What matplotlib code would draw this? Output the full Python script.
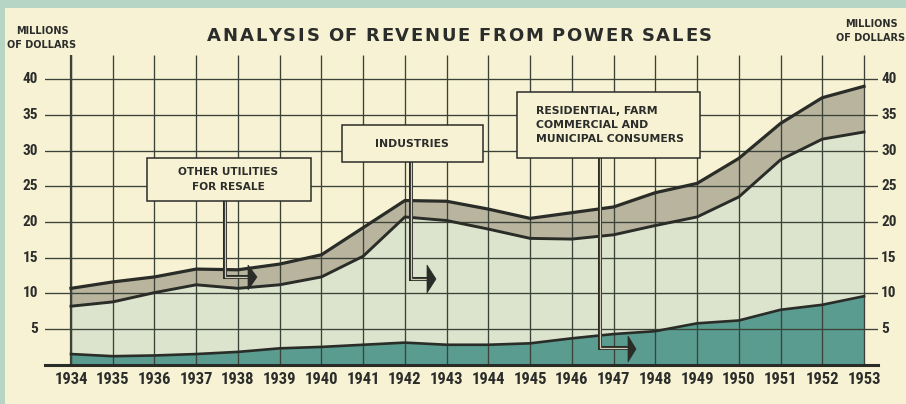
import numpy as np
import matplotlib
matplotlib.use("Agg")
import matplotlib.pyplot as plt
from matplotlib.patches import Rectangle, Polygon
from matplotlib.font_manager import FontProperties
from matplotlib import font_manager as fm

# ---------------- data ----------------
years = list(range(1934, 1954))
residential = [1.5, 1.2, 1.3, 1.5, 1.8, 2.3, 2.5, 2.8, 3.1, 2.8,
               2.8, 3.0, 3.7, 4.3, 4.7, 5.8, 6.2, 7.7, 8.4, 9.6]
industries = [6.7, 7.6, 8.8, 9.7, 8.9, 8.9, 9.8, 12.4, 17.6, 17.4,
              16.2, 14.7, 13.9, 13.9, 14.8, 14.9, 17.3, 21.0, 23.2, 23.0]
utilities = [2.5, 2.8, 2.2, 2.2, 2.6, 2.9, 3.1, 4.0, 2.3, 2.7,
             2.8, 2.8, 3.7, 3.9, 4.6, 4.7, 5.4, 5.1, 5.8, 6.4]
y_ticks = [5, 10, 15, 20, 25, 30, 35, 40]
year_labels = [str(y) for y in years]

title = "ANALYSIS OF REVENUE FROM POWER SALES"
unit_label = "MILLIONS\nOF DOLLARS"
label_utilities = "OTHER UTILITIES\nFOR RESALE"
label_industries = "INDUSTRIES"
label_residential = "RESIDENTIAL, FARM\nCOMMERCIAL AND\nMUNICIPAL CONSUMERS"

# ---------------- style ----------------
BORDER = "#b7d5c4"
CREAM = "#f8f2d4"
TEAL = "#5a9c90"
LIGHT = "#dde4cd"
GRAY = "#b8b49e"
LINE = "#2a2c28"
GRID = "#3b4339"
TXT = "#2b2d2a"


def _is_bold(f):
    w = f.weight
    if isinstance(w, str):
        return w in ("bold", "heavy", "black", "demibold", "semibold", "extra bold")
    return w >= 600


def narrow_font(size):
    """Pick an installed narrow bold sans face; fall back to Roboto Bold."""
    prefs = ["Liberation Sans Narrow", "Roboto Condensed", "Noto Sans Condensed",
             "Open Sans Condensed", "DejaVu Sans", "Noto Sans", "Open Sans",
             "Roboto", "Inter", "Lato"]
    cands = []
    for f in fm.fontManager.ttflist:
        narrow = ("Narrow" in f.name or "Condensed" in f.name
                  or f.stretch in ("condensed", "semi-condensed", "extra-condensed"))
        if narrow and f.style == "normal" and _is_bold(f) and "Mono" not in f.name \
                and "Serif" not in f.name:
            cands.append(f)
    if cands:
        def rank(f):
            for i, p in enumerate(prefs):
                if f.name.startswith(p):
                    return i
            return len(prefs)
        cands.sort(key=rank)
        return FontProperties(fname=cands[0].fname, size=size)
    return FontProperties(family=["Roboto", "DejaVu Sans"], weight="bold", size=size)


W, H = 906, 404
fig = plt.figure(figsize=(W / 100, H / 100), dpi=100, facecolor=BORDER)
fig.add_artist(Rectangle((5 / W, 0), 1, 1 - 8 / H, transform=fig.transFigure,
                         facecolor=CREAM, edgecolor="none", zorder=-10))
renderer = fig.canvas.get_renderer()


def fit_font(sample, target_w, max_size):
    fp = narrow_font(max_size)
    t = fig.text(0, 0, sample, fontproperties=fp)
    w = t.get_window_extent(renderer).width
    t.remove()
    size = max_size if w <= target_w else max_size * target_w / w
    return narrow_font(size)


year_fp = fit_font("1934", 34, 12.5)
ytick_fp = fit_font("40", 16.5, 11.0)

base_px, top_px = 364.75, 55.0
left_px, right_px = 45.0, 878.0
x_first_px, x_last_px = 71.0, 864.0
px_per_year = (x_last_px - x_first_px) / 19
ppu = 7.14

ax = fig.add_axes([left_px / W, 1 - base_px / H, (right_px - left_px) / W,
                   (base_px - top_px) / H])
ax.set_facecolor("none")
ax.set_xlim(1934 - (x_first_px - left_px) / px_per_year,
            1953 + (right_px - x_last_px) / px_per_year)
ytop = (base_px - top_px) / ppu
ax.set_ylim(0, ytop)
for s in ax.spines.values():
    s.set_visible(False)

ax.stackplot(years, residential, industries, utilities,
             colors=[TEAL, LIGHT, GRAY], linewidth=0, zorder=1)

for v in y_ticks:
    ax.axhline(v, color=GRID, lw=0.95, zorder=2)
ax.vlines(years, 0, ytop, color=GRID, lw=0.95, zorder=2)
ax.vlines([years[0]], 0, ytop, color=GRID, lw=1.6, zorder=2)

cum = np.cumsum(np.array([residential, industries, utilities]), axis=0)
ax.plot(years, cum[0], color=LINE, lw=1.9, zorder=3, solid_joinstyle="round")
ax.plot(years, cum[1], color=LINE, lw=2.1, zorder=3, solid_joinstyle="round")
ax.plot(years, cum[2], color=LINE, lw=2.3, zorder=3, solid_joinstyle="round")
ax.axhline(0, color=LINE, lw=2.2, zorder=4, clip_on=False)

ax.set_xticks(years)
ax.set_xticklabels(year_labels, fontproperties=year_fp, color=TXT)
ax.tick_params(axis="x", length=0, pad=5)
ax.set_yticks([])

ytr = ax.get_yaxis_transform()
span = right_px - left_px
for v in y_ticks:
    ax.text((38 - left_px) / span, v, str(v), transform=ytr, ha="right",
            va="center", fontproperties=ytick_fp, color=TXT)
    ax.text((881 - left_px) / span, v, str(v), transform=ytr, ha="left",
            va="center", fontproperties=ytick_fp, color=TXT)

# ---------------- overlay in pixel coordinates ----------------
ov = fig.add_axes([0, 0, 1, 1], zorder=5)
ov.set_xlim(0, W)
ov.set_ylim(H, 0)
ov.axis("off")
ov.patch.set_alpha(0)

lab_font = dict(fontfamily="DejaVu Sans", fontweight="bold", color=TXT)
ov.text(42, 38, unit_label, ha="center", va="center", fontsize=7,
        linespacing=1.5, **lab_font)
ov.text(871, 31, unit_label, ha="center", va="center", fontsize=7,
        linespacing=1.5, **lab_font)

# letter-spaced title
fp = FontProperties(family="DejaVu Sans", weight="bold", size=13)
widths = []
for ch in title:
    if ch == " ":
        widths.append(None)
    else:
        t = ov.text(0, 0, ch, fontproperties=fp)
        widths.append(t.get_window_extent(renderer).width)
        t.remove()
space_w = 5.0
tx0, tx1 = 207.0, 712.0
total = sum(w if w is not None else space_w for w in widths)
gap = (tx1 - tx0 - total) / (len(title) - 1)
x = tx0
for ch, w in zip(title, widths):
    if w is None:
        x += space_w + gap
        continue
    ov.text(x, 36, ch, fontproperties=fp, ha="left", va="center", color=TXT)
    x += w + gap


def pointer(pts, tip):
    xs, ys = zip(*pts)
    ov.plot(xs, ys, color=LINE, lw=2.9, solid_joinstyle="miter",
            solid_capstyle="butt", zorder=2)
    ov.plot(xs, ys, color=CREAM, lw=0.9, solid_joinstyle="miter",
            solid_capstyle="butt", zorder=2, alpha=0.8)
    ov.add_patch(Polygon(tip, closed=True, fc=LINE, ec=LINE, lw=0.5, zorder=3))


def box(x, y, w, h):
    ov.add_patch(Rectangle((x, y), w, h, fc=CREAM, ec=LINE, lw=1.1, zorder=4))


# other utilities
pointer([(224.5, 200), (224.5, 276.5), (248, 276.5)],
        [(248, 265), (257, 277), (248, 290)])
box(147, 158, 164, 43)
ov.text(228, 179.5, label_utilities, ha="center", va="center", fontsize=7.6,
        linespacing=1.55, zorder=5, **lab_font)

# industries
pointer([(411, 161), (411, 279), (427, 279)],
        [(427, 265), (436, 279), (427, 293)])
box(342, 125, 141, 37)
ov.text(412, 144, label_industries, ha="center", va="center", fontsize=7.8,
        zorder=5, **lab_font)

# residential
pointer([(600, 157), (600, 348), (628, 348)],
        [(628, 336), (636, 349), (628, 362)])
box(517, 92, 183, 66)
ov.text(536, 125, label_residential, ha="left", va="center", fontsize=7.8,
        linespacing=1.55, zorder=5, **lab_font)

fig.savefig("out.png", dpi=100, facecolor=fig.get_facecolor())
